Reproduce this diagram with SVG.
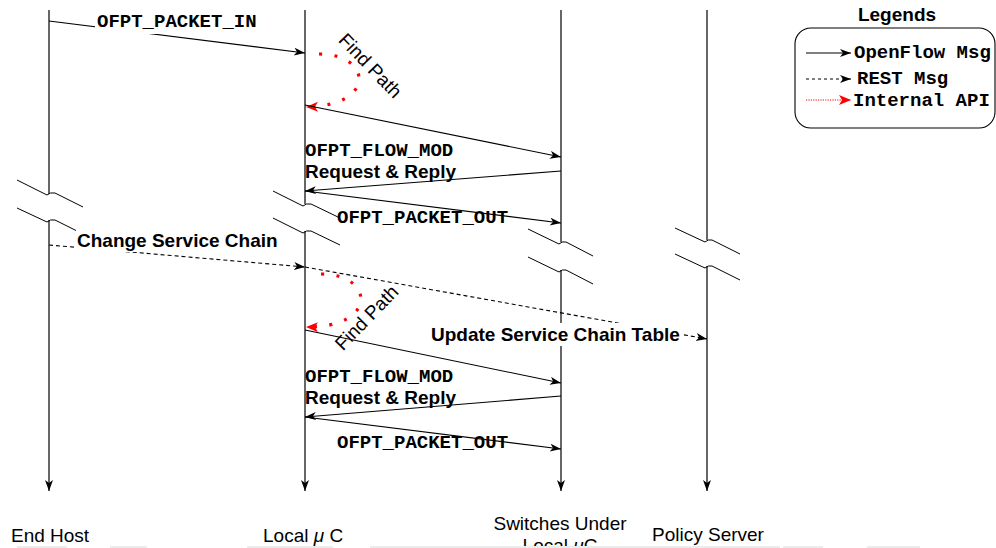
<svg xmlns="http://www.w3.org/2000/svg" width="996" height="548" viewBox="0 0 996 548">
<style>
.life{stroke:#000;stroke-width:1.2;fill:none}
.brk{stroke:#000;stroke-width:1;fill:none}
.msg{stroke:#000;stroke-width:1.1;fill:none}
.rest{stroke:#000;stroke-width:1.1;fill:none;stroke-dasharray:4 3}
.api{stroke:#f00;stroke-width:3.2;fill:none;stroke-dasharray:3 12.5}
.mono{font-family:"Liberation Mono","Courier New",monospace;font-weight:bold;font-size:19px;fill:#000}
.sansb{font-family:"Liberation Sans",Arial,Helvetica,sans-serif;font-weight:bold;font-size:19px;fill:#000}
.sans{font-family:"Liberation Sans",Arial,Helvetica,sans-serif;font-size:19px;fill:#000}
.bg{fill:#fff}
</style>
<defs>
<marker id="ah" markerUnits="userSpaceOnUse" markerWidth="12" markerHeight="10" refX="11" refY="4" orient="auto">
<path d="M0,0 L11,4 L0,8 L3,4 z" fill="#000"/>
</marker>
<marker id="ahr" markerUnits="userSpaceOnUse" markerWidth="14" markerHeight="12" refX="12" refY="5" orient="auto">
<path d="M0,0 L12,5 L0,10 L3,5 z" fill="#f00"/>
</marker>
</defs>
<rect width="996" height="548" fill="#fff"/>

<g id="lifelines">
<g id="end-host">
<line class="life" x1="49" y1="10" x2="49" y2="194"/>
<line class="life" x1="49" y1="220" x2="49" y2="491" marker-end="url(#ah)"/>
<path class="brk" d="M17,180 L47,195 Q50,192 55,193 L83,207"/>
<path class="brk" d="M17,208 L47,222 Q50,219 55,220 L77,231"/>
<text class="sans" x="11" y="542">End Host</text>
</g>
<g id="local-uc">
<line class="life" x1="305" y1="10" x2="305" y2="204"/>
<line class="life" x1="305" y1="231" x2="305" y2="491" marker-end="url(#ah)"/>
<path class="brk" d="M273,191 L303,206 Q306,203 311,204 L340,218"/>
<path class="brk" d="M273,218 L303,233 Q306,230 311,231 L340,245"/>
<text class="sans" x="263" y="542">Local <tspan font-style="italic">μ</tspan> C</text>
</g>
<g id="switches">
<line class="life" x1="561" y1="10" x2="561" y2="242"/>
<line class="life" x1="561" y1="270" x2="561" y2="491" marker-end="url(#ah)"/>
<path class="brk" d="M528,229 L559,244 Q562,241 566,242 L593,256"/>
<path class="brk" d="M528,257 L559,272 Q562,269 566,270 L593,284"/>
<text class="sans" x="560" y="530" text-anchor="middle">Switches Under</text>
<text class="sans" x="560" y="552" text-anchor="middle">Local <tspan font-style="italic">μ</tspan>C</text>
</g>
<g id="policy-server">
<line class="life" x1="707" y1="10" x2="707" y2="240"/>
<line class="life" x1="707" y1="266" x2="707" y2="491" marker-end="url(#ah)"/>
<path class="brk" d="M675,228 L705,242 Q708,239 712,240 L740,254"/>
<path class="brk" d="M675,254 L705,268 Q708,265 712,266 L740,280"/>
<text class="sans" x="652" y="541">Policy Server</text>
</g>
</g>

<g id="connectors">
<line class="msg" x1="49" y1="21" x2="305" y2="53" marker-end="url(#ah)"/>
<path class="api" d="M319,54 C372,54 377,106 306,107" marker-end="url(#ahr)"/>
<line class="msg" x1="305" y1="105" x2="561" y2="157" marker-end="url(#ah)"/>
<line class="msg" x1="561" y1="171" x2="305" y2="191" marker-end="url(#ah)"/>
<line class="msg" x1="305" y1="191" x2="561" y2="223" marker-end="url(#ah)"/>
<line class="rest" x1="49" y1="245" x2="305" y2="267" marker-end="url(#ah)"/>
<line class="rest" x1="305" y1="267" x2="707" y2="339" marker-end="url(#ah)"/>
<path class="api" d="M321,274 C375,274 378,328 306,327" marker-end="url(#ahr)"/>
<line class="msg" x1="305" y1="330" x2="561" y2="383" marker-end="url(#ah)"/>
<line class="msg" x1="561" y1="396" x2="305" y2="417" marker-end="url(#ah)"/>
<line class="msg" x1="305" y1="417" x2="561" y2="449" marker-end="url(#ah)"/>
</g>

<g id="labels">
<rect class="bg" x="95" y="10" width="164" height="24"/>
<text class="mono" x="97" y="27">OFPT_PACKET_IN</text>
<g transform="translate(370,66) rotate(46)"><text class="sans" x="0" y="6" text-anchor="middle">Find Path</text></g>
<text class="mono" x="305" y="156">OFPT_FLOW_MOD</text>
<text class="sansb" x="305" y="178">Request &amp; Reply</text>
<text class="mono" x="337" y="223">OFPT_PACKET_OUT</text>
<rect class="bg" x="76" y="230" width="203" height="22"/>
<text class="sansb" x="77" y="247">Change Service Chain</text>
<g transform="translate(367,318) rotate(-46)"><text class="sans" x="0" y="6" text-anchor="middle">Find Path</text></g>
<rect class="bg" x="430" y="323" width="253" height="23"/>
<text class="sansb" x="431" y="341">Update Service Chain Table</text>
<text class="mono" x="305" y="382">OFPT_FLOW_MOD</text>
<text class="sansb" x="305" y="404">Request &amp; Reply</text>
<text class="mono" x="337" y="448">OFPT_PACKET_OUT</text>
</g>

<g id="legend">
<text class="sansb" x="897" y="21" text-anchor="middle" font-size="18">Legends</text>
<rect x="795" y="28" width="200" height="100" rx="16" ry="16" fill="none" stroke="#000" stroke-width="1.1"/>
<line class="msg" x1="806" y1="53" x2="851" y2="53" marker-end="url(#ah)"/>
<text class="mono" x="854" y="58">OpenFlow Msg</text>
<line x1="806" y1="79" x2="851" y2="79" stroke="#000" stroke-width="1.1" stroke-dasharray="3 3" marker-end="url(#ah)"/>
<text class="mono" x="857" y="84">REST Msg</text>
<line x1="806" y1="100" x2="851" y2="100" stroke="#f00" stroke-width="1" stroke-dasharray="1.2 1.2" marker-end="url(#ahr)"/>
<text class="mono" x="853" y="106">Internal API</text>
</g>

<g id="bottom-shadows" fill="#ececec">
<rect x="17" y="546" width="50" height="2"/>
<rect x="110" y="546" width="37" height="2"/>
<rect x="247" y="546" width="86" height="2"/>
<rect x="370" y="546" width="410" height="2"/>
<rect x="783" y="546" width="40" height="2"/>
<rect x="867" y="546" width="53" height="2"/>
</g>
</svg>
